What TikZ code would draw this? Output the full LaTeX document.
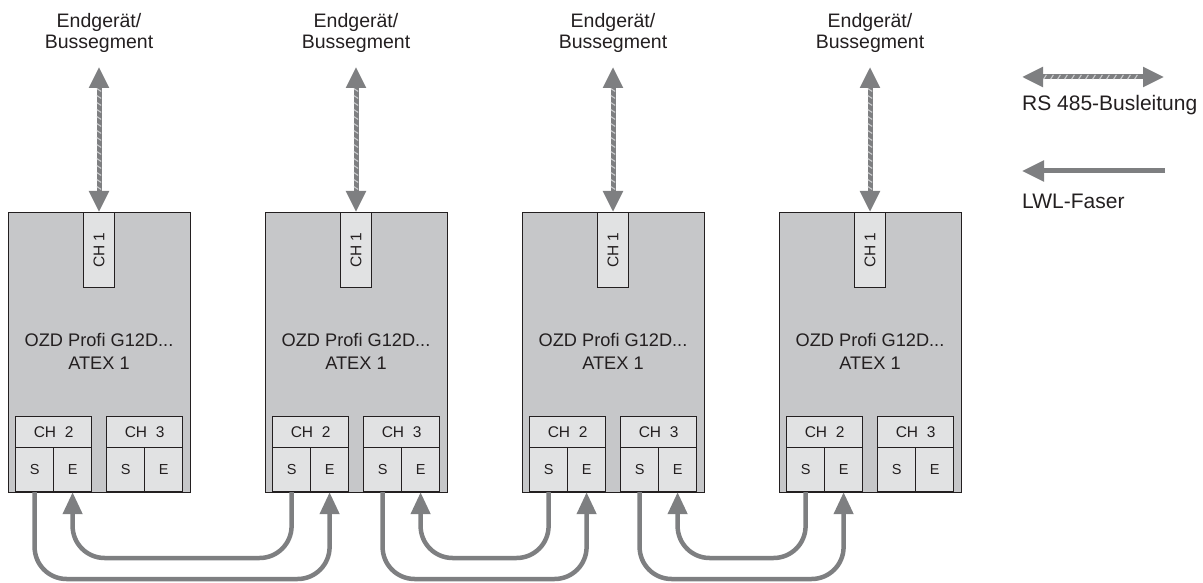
\documentclass[tikz,border=0pt]{standalone}
\usepackage{fontspec}
\usepackage{graphicx}
\setmainfont{Liberation Sans}
\usetikzlibrary{arrows.meta,decorations.markings}
\definecolor{lg}{HTML}{7E7F81}
\definecolor{stripe}{HTML}{C9CACC}
\definecolor{boxfill}{HTML}{C6C7C9}
\definecolor{portfill}{HTML}{E1E2E3}
\definecolor{ol}{HTML}{231F20}
\definecolor{txt}{HTML}{231F20}
\begin{document}
\begin{tikzpicture}[x=1pt,y=-1pt,
  modbox/.style={draw=ol, fill=boxfill, line width=1.2pt, minimum width=182pt, minimum height=280pt, inner sep=0pt, anchor=north west},
  port/.style={draw=ol, fill=portfill, line width=1.2pt, inner sep=0pt, anchor=north west, font=\fontsize{15.5}{17}\selectfont, text=txt},
  seport/.style={port, minimum width=38pt, minimum height=44pt, font=\fontsize{14.5}{16}\selectfont},
  fiber/.style={draw=lg, line width=4.5pt, rounded corners=32pt, -{Triangle[length=22pt,width=19pt]}},
  fiberline/.style={draw=lg, line width=5pt, -{Triangle[length=22pt,width=20pt]}},
  bus/.style={draw=lg, line width=5pt, {Triangle[length=21pt,width=19pt]}-{Triangle[length=21pt,width=19pt]},
    postaction={decorate},
    decoration={markings, mark=between positions 23pt and -22pt step 7pt with {\draw[-, draw=stripe, line width=1.1pt] (-1.4pt,-2.2pt) -- (1.4pt,2.2pt);}}},
  labtext/.style={align=center, inner sep=0pt, text=txt, font=\fontsize{19.5}{20.5}\selectfont},
  modtext/.style={align=center, inner sep=0pt, text=txt, font=\fontsize{18.2}{23}\selectfont},
  legtext/.style={anchor=west, inner sep=0pt, text=txt, font=\fontsize{21}{24}\selectfont},
]
\useasboundingbox (0,0) rectangle (1203,583);

\foreach \i in {1,...,4} {
  \pgfmathsetmacro\L{8+(\i-1)*257}
  \node[modbox] (mod\i) at (\L,212) {};
  \node[port, anchor=north, minimum width=30.5pt, minimum height=75pt] (ca\i) at (\L+91,212) {\rotatebox{90}{CH 1}};
  \node[modtext] (txt\i) at (\L+91,351) {OZD Profi G12D...\\ATEX 1};
  \node[port, minimum width=76pt, minimum height=31pt] (ha\i) at (\L+7,416) {CH\ \ 2};
  \node[seport] (sa\i) at (\L+7,447) {S};
  \node[seport] (ea\i) at (\L+45,447) {E};
  \node[port, minimum width=76pt, minimum height=31pt] (hb\i) at (\L+98,416) {CH\ \ 3};
  \node[seport] (sb\i) at (\L+98,447) {S};
  \node[seport] (eb\i) at (\L+136,447) {E};
  \node[labtext] (lab\i) at (\L+91,33) {Endgerät/\\Bussegment};
  \coordinate (top\i) at (\L+91,67);
  \draw[bus] (top\i) -- (ca\i.north);
}

\coordinate (lo) at (0,579);
\coordinate (up) at (0,558);
% lower fibres
\draw[fiber] (sa1.south) |- (lo -| ea2.south) -- (ea2.south);
\draw[fiber] (sb2.south) |- (lo -| ea3.south) -- (ea3.south);
\draw[fiber] (sb3.south) |- (lo -| ea4.south) -- (ea4.south);
% upper fibres
\draw[fiber] (sa2.south) |- (up -| ea1.south) -- (ea1.south);
\draw[fiber] (sa3.south) |- (up -| eb2.south) -- (eb2.south);
\draw[fiber] (sa4.south) |- (up -| eb3.south) -- (eb3.south);

% legend
\coordinate (k1) at (1022,77);
\coordinate (k2) at (1164,77);
\draw[bus] (k1) -- (k2);
\node[legtext] (kt1) at (1022,105) {RS 485-Busleitung};
\coordinate (k3) at (1165,171);
\coordinate (k4) at (1022,171);
\draw[fiberline] (k3) -- (k4);
\node[legtext] (kt2) at (1022,201) {LWL-Faser};
\end{tikzpicture}
\end{document}
